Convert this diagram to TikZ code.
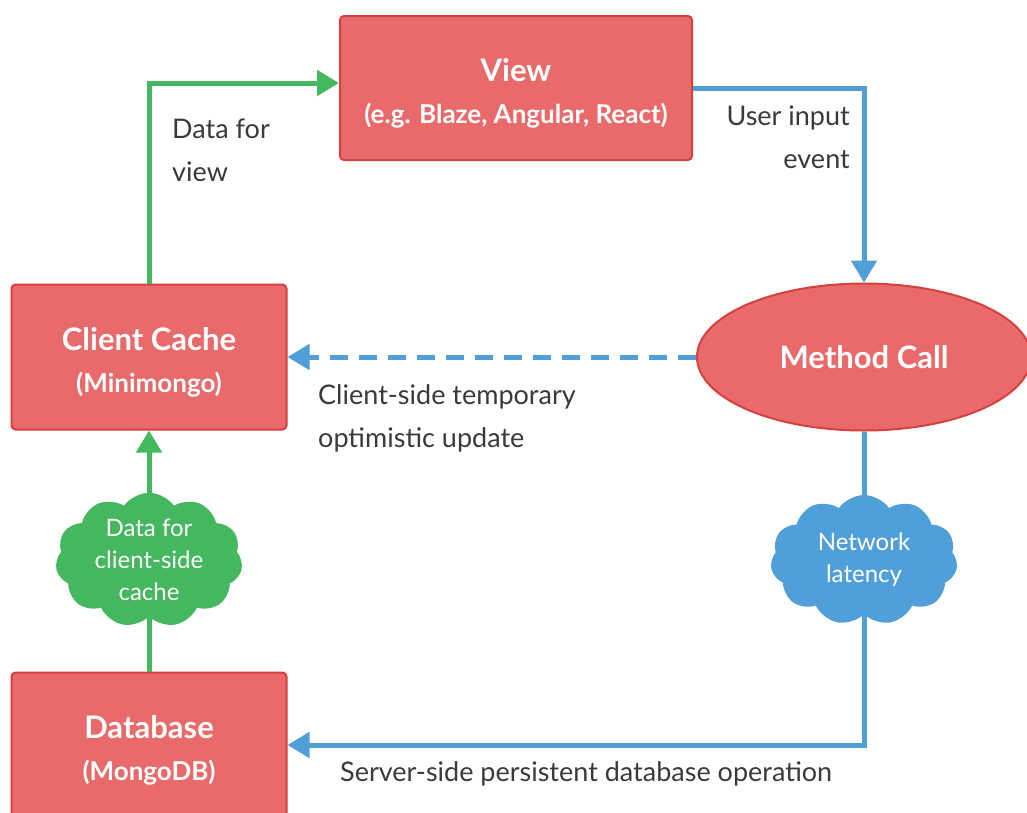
\documentclass[tikz,border=0pt]{standalone}
\usepackage{fontspec}
\setmainfont{Lato}
\usepackage{tikz}
\usetikzlibrary{arrows.meta, shapes.geometric, shapes.symbols}

\definecolor{boxred}{HTML}{E86A6A}
\definecolor{edgered}{HTML}{D6413F}
\definecolor{flowgreen}{HTML}{45B75E}
\definecolor{flowblue}{HTML}{519FD9}
\definecolor{labelgray}{HTML}{3A3A3A}

\newcommand{\boxtitle}[2]{{\fontsize{31}{42}\selectfont\bfseries\rule{0pt}{33pt}#1}\\{\fontsize{26}{42}\selectfont\bfseries #2}}

\begin{document}
\begin{tikzpicture}[x=1pt, y=-1pt,
    block/.style={draw=edgered, line width=2pt, fill=boxred, rounded corners=4pt,
        text=white, align=center, minimum width=275pt, minimum height=145pt,
        font=\fontsize{26}{42}\selectfont},
    puff/.style={cloud, cloud puffs=11, cloud puff arc=110, aspect=1.4, text=white,
        align=center, minimum width=187pt, minimum height=130pt, inner sep=0pt,
        font=\fontsize{24}{32}\selectfont},
    lbl/.style={text=labelgray, font=\fontsize{27}{43}\selectfont, inner sep=0pt},
    gflow/.style={draw=flowgreen, line width=5pt},
    bflow/.style={draw=flowblue, line width=5pt},
    tip/.style={-{Triangle[length=22pt, width=25pt]}}]
\useasboundingbox (0,0) rectangle (1027,812);

% Draw boxes
\node[block, minimum width=352pt, minimum height=144pt] (view) at (516,88)
    {\boxtitle{View}{(e.g. Blaze, Angular, React)}};
\node[block] (cc) at (149,357) {\boxtitle{Client Cache}{(Minimongo)}};
\node[block] (db) at (149,745) {\boxtitle{Database}{(MongoDB)}};
\node[ellipse, draw=edgered, line width=2pt, fill=boxred, text=white,
    minimum width=334pt, minimum height=147pt,
    font=\fontsize{31}{36}\selectfont\bfseries] (mc) at (864,357) {Method Call};

% Draw clouds
\node[puff, fill=flowgreen] (dcache) at (149,560) {Data for\\client-side\\cache};
\node[puff, fill=flowblue] (net) at (864,560) {Network\\latency};

% Draw connectors
\draw[gflow, tip] (cc.north) |- ([yshift=5pt]view.west);
\draw[gflow] (db.north) -- (dcache.south);
\draw[gflow, tip] (dcache.north) -- (cc.south);
\draw[bflow, tip] (view.east) -| (mc.north);
\draw[bflow, tip, dash pattern=on 18pt off 11pt] (mc.west) -- (cc.east);
\draw[bflow] (mc.south) -- (net.north);
\draw[bflow, tip] (net.south) |- (db.east);

% Labels
\node[lbl, anchor=north west, align=left] (lview) at (172,119) {Data for\\view};
\node[lbl, anchor=north east, align=right] (linput) at (850,106) {User input\\event};
\node[lbl, anchor=north west, align=left] (lopt) at (318,384) {Client-side temporary\\optimistic update};
\node[lbl, anchor=west] (lserver) at (340,774) {Server-side persistent database operation};
\end{tikzpicture}
\end{document}
